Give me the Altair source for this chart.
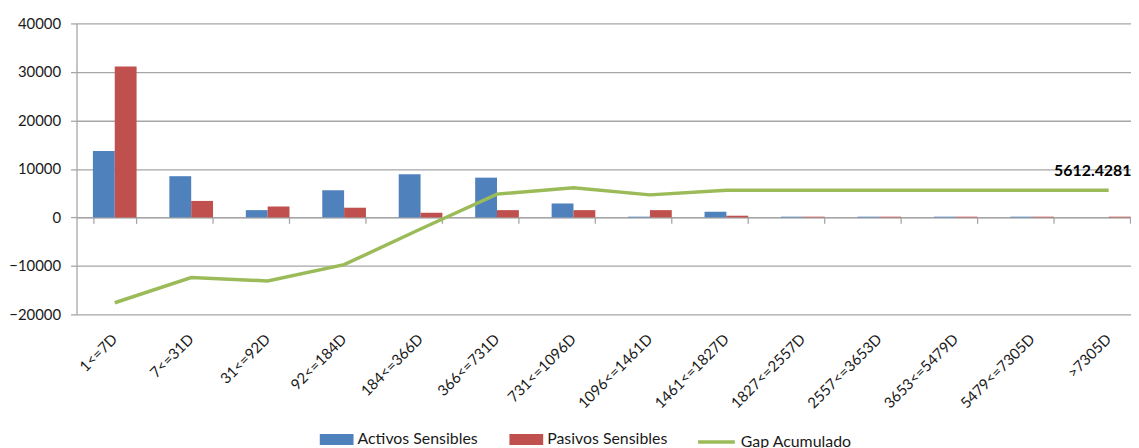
import altair as alt
import pandas as pd

categories = ["1<=7D", "7<=31D", "31<=92D", "92<=184D", "184<=366D", "366<=731D",
              "731<=1096D", "1096<=1461D", "1461<=1827D", "1827<=2557D",
              "2557<=3653D", "3653<=5479D", "5479<=7305D", ">7305D"]
activos = [13700, 8500, 1500, 5600, 8900, 8200, 2870, 150, 1170, 150, 150, 150, 150, 0]
pasivos = [31100, 3400, 2250, 2000, 960, 1500, 1500, 1500, 350, 150, 150, 150, 150, 150]
gap_acumulado = [-17600, -12400, -13100, -9750, -2400, 4800, 6100, 4650, 5580,
                 5612.42818, 5612.42818, 5612.42818, 5612.42818, 5612.42818]
series_names = ["Activos Sensibles", "Pasivos Sensibles"]
line_name = "Gap Acumulado"

FONT = "Lato"
H = 293
Y_MIN, Y_MAX = -20000, 40000

bars_df = pd.DataFrame({
    "cat": categories * 2,
    "serie": [series_names[0]] * len(categories) + [series_names[1]] * len(categories),
    "valor": activos + pasivos,
})
line_df = pd.DataFrame({"cat": categories, "gap": gap_acumulado,
                        "serie": [line_name] * len(categories)})
label_df = line_df.tail(1)

x_scale = alt.Scale(domain=categories, range=[0, 1078],
                    paddingInner=0.4286, paddingOuter=0.2143)
y_scale = alt.Scale(domain=[Y_MIN, Y_MAX], nice=False)
y_axis = alt.Axis(values=list(range(Y_MIN, Y_MAX + 1, 10000)), format="d", title=None,
                  orient="left",
                  grid=True, gridColor="#a6a6a6", gridWidth=1.3,
                  domainColor="#a6a6a6", domainWidth=1.3,
                  tickColor="#a6a6a6", tickSize=6, tickWidth=1.3,
                  labelFont=FONT, labelFontSize=15, labelColor="#1a1a1a",
                  labelPadding=10)

bars = alt.Chart(bars_df).mark_bar().encode(
    x=alt.X("cat:N", sort=categories, scale=x_scale,
            axis=alt.Axis(title=None, orient="bottom", ticks=False, domain=False, grid=False,
                          labelAngle=-45, labelAlign="right", labelBaseline="middle",
                          labelPadding=22, labelFont=FONT, labelFontSize=15,
                          labelColor="#1a1a1a")),
    xOffset=alt.XOffset("serie:N", sort=series_names,
                        scale=alt.Scale(paddingInner=0, paddingOuter=0)),
    y=alt.Y("valor:Q", scale=y_scale, axis=y_axis),
    fill=alt.Fill("serie:N", sort=series_names,
                  scale=alt.Scale(domain=series_names, range=["#4F81BD", "#C0504D"]),
                  legend=alt.Legend(title=None, orient="none", legendX=245, legendY=402,
                                    direction="horizontal",
                                    symbolType="M-1,-0.33H1V0.33H-1Z",
                                    symbolSize=1156, symbolStrokeWidth=0,
                                    labelOffset=4, columnPadding=31,
                                    labelFont=FONT, labelFontSize=16,
                                    labelColor="#1a1a1a")),
)

line = alt.Chart(line_df).mark_line(strokeWidth=3.5).encode(
    x=alt.X("cat:N", sort=categories, scale=x_scale,
            axis=alt.Axis(title=None, orient="bottom", labels=False, grid=False,
                          tickBand="extent",
                          offset=-H * (0 - Y_MIN) / (Y_MAX - Y_MIN),
                          domainColor="#a6a6a6", domainWidth=1.3,
                          tickColor="#a6a6a6", tickWidth=1.3, tickSize=6)),
    y=alt.Y("gap:Q", scale=y_scale, axis=y_axis),
    stroke=alt.Stroke("serie:N",
                      scale=alt.Scale(domain=[line_name], range=["#9BBB59"]),
                      legend=alt.Legend(title=None, orient="none", legendX=624, legendY=401,
                                        symbolType="M-1,0H1", symbolSize=1369,
                                        symbolStrokeWidth=3.5, labelOffset=4,
                                        labelFont=FONT, labelFontSize=16,
                                        labelColor="#1a1a1a")),
)

label = alt.Chart(label_df).mark_text(align="left", baseline="middle", dx=-55, dy=-19,
                                      font=FONT, fontSize=16, fontWeight="bold",
                                      color="#000000").encode(
    x=alt.X("cat:N", sort=categories, scale=x_scale, axis=None),
    y=alt.Y("gap:Q", scale=y_scale, axis=y_axis),
    text=alt.Text("gap:Q", format=".5f"),
)

chart = alt.layer(bars, line, label).resolve_axis(x="independent").resolve_scale(
    fill="independent", stroke="independent"
).properties(
    width=1062, height=H,
    autosize=alt.AutoSizeParams(type="none"),
    padding={"left": 69, "top": 14, "right": 0, "bottom": 133},
).configure_view(stroke=None)

chart.save("out.html", embed_options={"renderer": "svg", "actions": False})
